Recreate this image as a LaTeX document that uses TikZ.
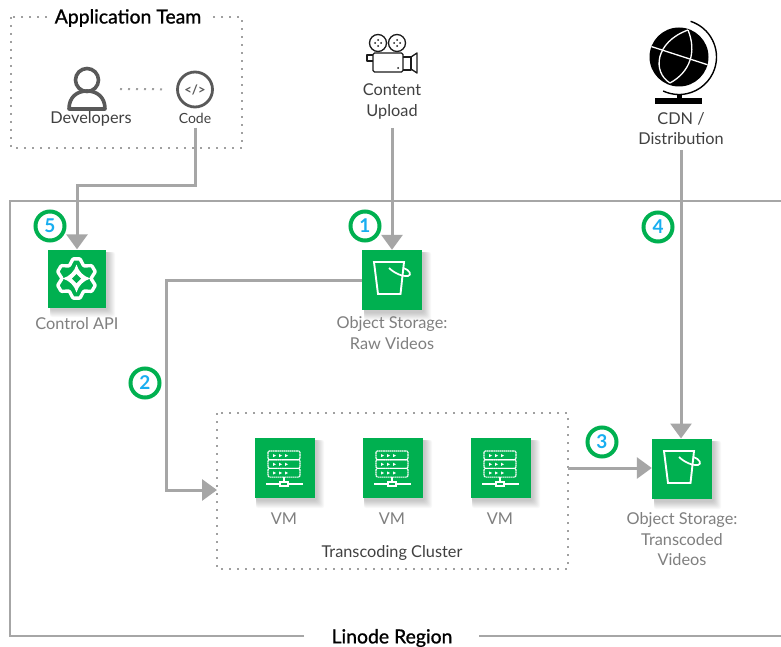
\documentclass[tikz,border=0pt]{standalone}
\usepackage{fontspec}
\setmainfont{Lato}
\newfontfamily\headfont[FakeBold=1]{Lato}
\usetikzlibrary{arrows.meta,shapes.geometric}
\definecolor{lingreen}{HTML}{00B050}
\definecolor{badgeblue}{HTML}{18AEF0}
\definecolor{conncol}{HTML}{A6A6A6}
\definecolor{dotc}{HTML}{A0A0A0}
\definecolor{icong}{HTML}{595959}
\definecolor{labg}{HTML}{7F7F7F}
\definecolor{labd}{HTML}{404040}
\newcommand{\softshd}[4]{%
  \foreach \i in {0,...,7}{\fill[black,opacity=.028,rounded corners=2pt] (#1+2,#2+2) rectangle (#3+2+\i,#4+3+\i);}}
\tikzset{
  x=1pt,y=-1pt,
  greenbox/.style={draw=none,fill=lingreen,inner sep=0pt,minimum width=#1,minimum height=#1},
  badge/.style={circle,draw=lingreen,line width=4pt,fill=white,minimum size=29pt,inner sep=0pt,text=badgeblue,font=\fontsize{19}{20}\selectfont\bfseries},
  connarrow/.style={draw=conncol,line width=3pt,-{Triangle[length=15pt,width=21pt]}},
  frameline/.style={draw=conncol,line width=2pt},
  dotline/.style={draw=dotc,line width=2pt,dash pattern=on 2pt off 6pt},
  graylab/.style={text=labg,font=\fontsize{16.3}{20.5}\selectfont,align=center,inner sep=0pt},
  darklab/.style={text=labd,font=\fontsize{16.3}{20.5}\selectfont,align=center,inner sep=0pt},
  headlab/.style={text=black,font=\fontsize{19.4}{20}\selectfont\headfont,inner sep=0pt,fill=white},
  bucketicon/.pic={
    \draw[white,line width=1.9pt,line join=miter] (12,12)--(42,12)--(38.5,44)--(16,44)--cycle;
    \draw[white,line width=1.7pt] (27,18) .. controls (32,23) and (41,27) .. (46,26) .. controls (50,25) and (48,20) .. (41,18);
  },
  vmicon/.pic={
    \foreach \r in {0,1,2}{
      \draw[white,line width=1.1pt,rounded corners=1.2pt,dash pattern=on 1.6pt off .5pt] (14,13+\r*8.7) rectangle (46,13+\r*8.7+8.7);
      \foreach \k in {0,1,2}{\fill[white] (19+\k*6,16+\r*8.7)--(22+\k*6,17.6+\r*8.7)--(19+\k*6,19.2+\r*8.7)--cycle;}
    }
    \draw[white,line width=1.1pt] (30,39)--(30,44);
    \draw[white,line width=1.1pt] (12,46)--(26,46) (34,46)--(49,46);
    \draw[white,line width=1.1pt] (26,44) rectangle (34,48);
  },
  gearicon/.pic={
    \begin{scope}[shift={(28.5,28.5)}]
    \draw[white,line width=3.4pt,line join=round,rounded corners=.8pt]
      (100:20)
      -- (80:20) -- (60:14.5)
      -- (40:20) -- (20:20) -- (0:14.5)
      -- (-20:20) -- (-40:20) -- (-60:14.5)
      -- (-80:20) -- (-100:20) -- (-120:14.5)
      -- (-140:20) -- (-160:20) -- (180:14.5)
      -- (160:20) -- (140:20) -- (120:14.5) -- cycle;
    \fill[white] (0,-14) .. controls (2,-7) and (7,-2) .. (14,0) .. controls (7,2) and (2,7) .. (0,14) .. controls (-2,7) and (-7,2) .. (-14,0) .. controls (-7,-2) and (-2,-7) .. (0,-14) -- cycle;
    \fill[lingreen] (0,-4.5)--(4.5,0)--(0,4.5)--(-4.5,0)--cycle;
    \end{scope}
  },
}
\begin{document}
\begin{tikzpicture}[line cap=butt]
\useasboundingbox (0,0) rectangle (781,647);
\fill[white] (0,0) rectangle (781,647);

% ---- region frame
\node[headlab] (region) at (392,638) {Linode Region};
\coordinate (rbl) at (10,636);
\coordinate (rtl) at (10,201);
\coordinate (rtr) at (781,201);
\coordinate (rbr) at (781,636);
\coordinate (rl) at (304,636);
\coordinate (rr) at (479,636);
\draw[frameline] (rl)--(rbl)--(rtl)--(rtr);
\draw[frameline] (rr)--(rbr);

% ---- application team
\draw[dotline] (11,17) rectangle (242,148);
\node[headlab,inner xsep=6pt] (team) at (128,18) {Application Team};

% developer icon
\draw[icong,line width=3.6pt] (87,80) circle (11.5);
\draw[icong,line width=3.6pt,line join=round] (69,109) .. controls (69,97) and (77,91) .. (87,91) .. controls (97,91) and (105,97) .. (105,109) -- cycle;
\coordinate (dev) at (120,89);
\node[darklab] (devlab) at (91,119) {Developers};
% code icon
\node[circle,draw=icong,line width=2.8pt,minimum size=35pt,inner sep=0pt,text=icong,font=\fontsize{13}{13}\selectfont\bfseries] (code) at (195,89.5) {</>};
\node[text=labd,font=\fontsize{14}{14}\selectfont,inner sep=0pt] (codelab) at (195,118) {Code};
\draw[dotline,shorten >=11pt] (dev)--(code);

% ---- content upload
\begin{scope}[icong!30!black,line width=1.3pt,line join=round]
  \draw (378,43) circle (8.5) (397,43) circle (8.5);
  \foreach \cx in {378,397}{\foreach \a/\b in {0/-3,0/3,-3/0,3/0}{\fill (\cx+\a,43+\b) circle (1);}}
  \draw[rounded corners=1.5pt,fill=white] (373,53) rectangle (403,72);
  \draw (373,55)--(367,55)--(367,61)--(373,61);
  \draw (403,57)--(411,57)--(411,70)--(403,70);
  \draw (411,57)--(417,53)--(417,73)--(411,69);
  \fill (398,68) circle (1);
\end{scope}
\node[darklab] (upload) at (392,101.5) {Content\\Upload};

% ---- CDN
\fill[black] (679,57) circle (29.5);
\begin{scope}
  \clip (679,57) circle (29.5);
  \draw[white,line width=1.3pt] (645,44.5)--(713,66.5);
  \draw[white,line width=1.3pt] (688,30) .. controls (655,42) and (652,72) .. (670,83);
  \draw[white,line width=1.3pt] (688,30) .. controls (697,52) and (690,72) .. (670,83);
\end{scope}
\draw[black,line width=1.4pt] (679,57) ++(-72:37.5) arc[start angle=-72,end angle=115,radius=37.5];
\fill[black] (677,94) rectangle (682,99);
\fill[black] (655,98) rectangle (702,104);
\node[darklab] (cdn) at (681,128.5) {CDN /\\Distribution};

% ---- dotted cluster
\draw[dotline] (217,413) rectangle (568,569);
\coordinate (cl) at (217,490);
\coordinate (cr) at (568,468);
\node[darklab] (clusterlab) at (392,553) {Transcoding Cluster};

% ---- shadows, boxes
\softshd{48}{250}{106}{307}
\softshd{362}{250}{422}{310}
\softshd{254}{438}{315}{498}
\softshd{362}{438}{423}{498}
\softshd{470}{438}{531}{498}
\softshd{652}{439}{712}{499}
\node[greenbox=58pt] (api) at (77,278.5) {};
\node[greenbox=60pt] (raw) at (392,280) {};
\node[greenbox=60pt] (vma) at (284.5,468) {};
\node[greenbox=60pt] (vmb) at (392.5,468) {};
\node[greenbox=60pt] (vmc) at (500.5,468) {};
\node[greenbox=60pt] (trans) at (682,469) {};
\pic at (48,250) {gearicon};
\pic at (362,250) {bucketicon};
\pic at (254,438) {vmicon};
\pic at (362,438) {vmicon};
\pic at (470,438) {vmicon};
\pic at (652,439) {bucketicon};

\node[graylab] (apilab) at (77,323.5) {Control API};
\node[graylab] (rawlab) at (392,333) {Object Storage:\\Raw Videos};
\node[graylab] at (284,518.5) {VM};
\node[graylab] at (392,518.5) {VM};
\node[graylab] at (500,518.5) {VM};
\node[graylab] (translab) at (682,539.5) {Object Storage:\\Transcoded\\Videos};

% ---- connectors
\draw[connarrow] (code.south |- 0,128) -- (195,186) -- (77,186) -- (api.north);
\draw[connarrow] (upload.south |- 0,128) -- (raw.north);
\draw[connarrow] (681,150) -- (681,438.5);
\draw[connarrow] (raw.west) -- (166,280) -- (166,490) -- (cl);
\draw[connarrow] (cr) -- (trans.west |- cr);

% ---- badges
\node[badge] at (50,226) {5};
\node[badge] at (365,226) {1};
\node[badge] at (145,383) {2};
\node[badge] at (602,442) {3};
\node[badge] at (658,227) {4};
\end{tikzpicture}
\end{document}
